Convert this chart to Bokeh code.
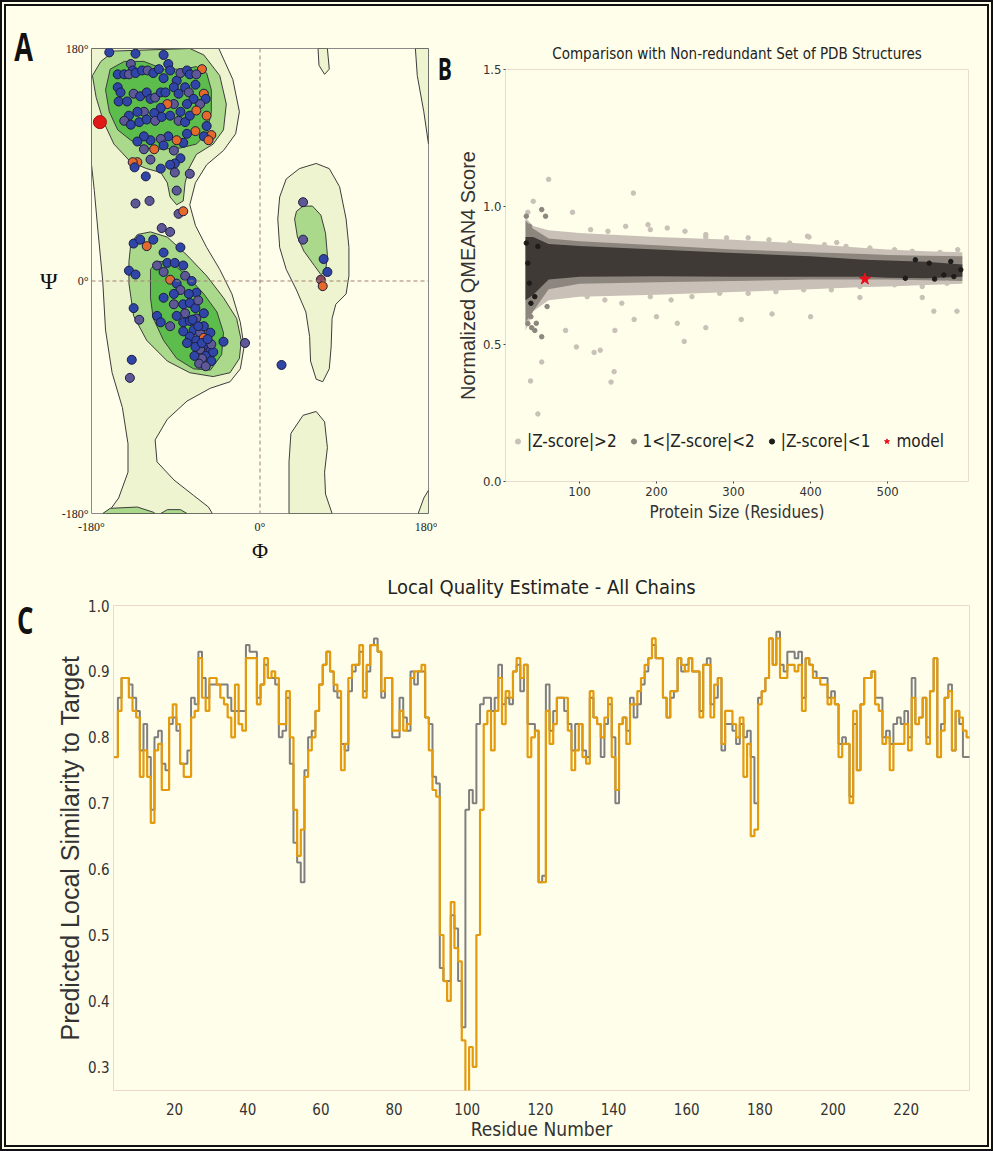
from bokeh.plotting import figure
from bokeh.layouts import column, row
from bokeh.models import (Range1d, FixedTicker, Legend, LegendItem, Span, Div,
                          PrintfTickFormatter)
from bokeh.embed import file_html
from bokeh.resources import INLINE

# ---------------------------------------------------------------- data
# Panel A: Ramachandran contours (phi, psi in degrees)
OUTER_BIG_PHI = [-180, -44, -29, -22, -26, -39, -57, -69, -75, -69, -57, -43, -30, -21, -17, -21, -32, -53, -78, -99, -112, -110, -92, -71, -55, -51, -163, -151, -141, -141, -147, -158, -165, -168, -173, -177, -180]
OUTER_BIG_PSI = [180, 180, 156, 131, 114, 101, 90, 76, 59, 43, 26, 9, -10, -32, -51, -68, -78, -83, -93, -107, -123, -140, -154, -166, -175, -180, -180, -168, -148, -126, -98, -71, -38, 0, 38, 70, 90]
OUTER_RIGHT_PHI = [19, 21, 28, 42, 60, 74, 85, 92, 95, 95, 92, 81, 77, 76, 74, 67, 60, 54, 53, 49, 39, 28, 21]
OUTER_RIGHT_PSI = [48, 65, 79, 87, 91, 87, 73, 48, 26, 4, -10, -18, -29, -51, -68, -78, -76, -62, -43, -24, -7, 9, 26]
OUTER_TOP_PHI = [62, 63, 69, 74, 72]
OUTER_TOP_PSI = [180, 167, 160, 164, 180]
OUTER_BOT_PHI = [31, 31, 33, 46, 60, 69, 72, 69, 70, 77]
OUTER_BOT_PSI = [-180, -140, -118, -104, -101, -109, -129, -148, -165, -180]
OUTER_TR_PHI = [166, 168, 175, 180, 180]
OUTER_TR_PSI = [180, 159, 131, 106, 180]
OUTER_BR_PHI = [169, 175, 180, 180]
OUTER_BR_PSI = [-180, -168, -162, -180]

MID_BETA_PHI = [-179, -175, -167, -156, -138, -121, -106, -99, -96, -89, -82, -80, -76, -68, -50, -39, -36, -43, -60, -75, -156, -170]
MID_BETA_PSI = [159, 142, 123, 106, 92, 87, 84, 76, 65, 59, 62, 76, 87, 98, 106, 117, 137, 159, 175, 180, 178, 170]
MID_ALPHA_PHI = [-140, -140, -135, -121, -99, -75, -50, -32, -22, -20, -25, -39, -57, -78, -99, -117, -131, -138]
MID_ALPHA_PSI = [15, -2, -27, -46, -62, -71, -74, -71, -60, -46, -29, -13, 4, 20, 34, 38, 36, 29]
MID_RIGHT_PHI = [37, 39, 46, 56, 65, 70, 72, 70, 65, 58, 47, 40]
MID_RIGHT_PSI = [48, 54, 58, 58, 51, 37, 20, 7, 5, 12, 23, 34]
MID_BOT1_PHI = [-168, -160, -131, -114, -112]
MID_BOT1_PSI = [-180, -176, -175, -179, -180]
MID_BOT2_PHI = [-106, -99, -85, -78]
MID_BOT2_PSI = [-180, -177, -177, -180]

DARK_BETA_PHI = [-165, -161, -152, -138, -124, -106, -85, -68, -57, -52, -52, -57, -68, -82, -103, -124, -145, -160]
DARK_BETA_PSI = [148, 131, 117, 109, 103, 102, 103, 106, 114, 131, 148, 161, 166, 164, 164, 170, 170, 164]
DARK_ALPHA_PHI = [-117, -114, -103, -89, -71, -53, -41, -39, -46, -60, -78, -96, -110, -117]
DARK_ALPHA_PSI = [-13, -29, -46, -60, -68, -69, -57, -40, -24, -10, 4, 15, 15, 9]

# Panel A: residues (phi, psi, class)
RES_PHI = [-161, -133, -103, -138, -136, -152, -145, -140, -133, -126, -120, -114, -108, -103, -98, -96, -89, -85, -78, -75, -62,
           -152, -149, -151, -142, -135, -128, -121, -117, -112, -106, -101, -92, -87, -80, -76, -69, -68, -60, -58, -64, -71, -78,
           -85, -92, -99, -106, -113, -124, -131, -140, -145, -138, -129, -121, -112, -105, -96, -87, -80, -75, -68, -57, -57, -52,
           -60, -55, -69, -78, -82, -89, -98, -106, -117, -124, -131, -124, -113, -103, -92, -85, -91, -96, -106, -117, -131, -136,
           -134, -122, -91, -75, -89, -133, -118, -87, -82,
           -105, -96, -135, -128, -121, -114, -85, -103, -140, -133, -110, -99, -91, -82, -103, -96, -89, -80, -73, -68, -76, -85,
           -92, -103, -92, -82, -75, -69, -80, -89, -135, -110, -129, -106, -96, -82, -75, -68, -71, -64, -75, -68, -60, -57, -64,
           -53, -58, -52, -82, -60, -53, -50, -52, -69, -62, -39, -16, -137, -139, 23, -66, -62, -56, -70, -65, -58, -72, -78, -60, -66,
           46, 46, 68, 72, 65, 67, 72, 86, 96, 107,
           -177, -178, -84, -91]
RES_PSI = [177, 176, 175, 168, 163, 160, 160, 160, 161, 163, 163, 161, 164, 157, 168, 163, 155, 161, 163, 160, 164,
           150, 146, 139, 139, 145, 143, 146, 141, 142, 146, 146, 150, 145, 150, 146, 152, 160, 145, 141, 137, 141, 137,
           131, 137, 137, 134, 130, 131, 131, 128, 124, 121, 123, 125, 124, 127, 128, 124, 123, 128, 132, 128, 120, 113,
           112, 109, 116, 114, 107, 109, 112, 110, 109, 112, 108, 102, 102, 105, 101, 95, 91, 90, 87, 94, 92, 92,
           88, 81, 84, 83, 70, 60, 62, 52, 54,
           41, 38, 29, 32, 27, 32, 26, 22, 8, 5, 12, 14, 14, 12, 7, 1, -2, 4, 0, -9, -10, -7,
           -10, -13, -18, -18, -17, -21, -25, -27, -21, -27, -30, -32, -35, -32, -31, -29, -38, -40, -43, -46, -44, -50, -53,
           -54, -58, -62, -39, -35, -40, -55, -49, -51, -60, -47, -48, -61, -75, -65, -35, -48, -45, -58, -64, -66, -30, -48, -25, -15,
           61, 32, 17, 7, 1, -4, -8, -3, 0, -26,
           -161, -169, -155, -173]
RES_CLASS = list("bbbpbbbpbbpbbbbbbpbbo"
                 "bbbbpbbbpbbbbbpbpobpbbbpobbpbbpbbbpbbpbbooboboobbobpbbbpobpbbbbpoobbpppp"
                 "ppoppbbobbbbbpbbbpobpbbbpbbpbbbpbbbpbpbbpbpbbobpbbbbbbbpbpbpbpbbb"
                 "bbppbbbppp"
                 "bbmo")
OUTLIER_PHI = [-171]
OUTLIER_PSI = [123]

# Panel B: reference set (protein size vs normalized QMEAN4)
BAND_X = [30, 40, 60, 100, 200, 300, 400, 470, 500, 550, 597]
LIGHT_HI = [0.96, 0.93, 0.915, 0.905, 0.89, 0.88, 0.865, 0.85, 0.845, 0.838, 0.835]
LIGHT_LO = [0.55, 0.62, 0.66, 0.673, 0.68, 0.69, 0.70, 0.708, 0.71, 0.715, 0.72]
MID_HI = [0.95, 0.92, 0.885, 0.875, 0.86, 0.845, 0.835, 0.828, 0.825, 0.822, 0.82]
MID_LO = [0.58, 0.62, 0.70, 0.72, 0.725, 0.73, 0.735, 0.735, 0.735, 0.733, 0.73]
DARK_HI = [0.89, 0.89, 0.865, 0.857, 0.845, 0.832, 0.82, 0.807, 0.805, 0.80, 0.79]
DARK_LO = [0.66, 0.68, 0.735, 0.745, 0.747, 0.745, 0.745, 0.745, 0.742, 0.74, 0.745]

LIGHT_PX = [60, 170, 40, 33, 91, 36.5, 46, 51, 145, 141, 127, 96, 82, 236, 227, 560, 590, 350, 400, 310, 264, 464, 189, 398, 264, 146, 119, 171, 200, 434, 545,
            114.5, 137, 160, 192, 214, 237, 264, 291, 319, 346, 373, 396, 418, 446, 477, 509, 532, 568, 591,
            110, 133, 155, 192, 219, 246, 282, 319, 355, 391, 427, 464, 509, 545, 577]
LIGHT_PY = [1.10, 1.05, 1.02, 0.98, 0.98, 0.366, 0.246, 0.435, 0.40, 0.362, 0.478, 0.49, 0.55, 0.51, 0.576, 0.62, 0.62, 0.61, 0.60, 0.59, 0.56, 0.67, 0.935, 0.89, 0.89, 0.55, 0.47, 0.59, 0.60, 0.87, 0.67,
            0.917, 0.911, 0.929, 0.917, 0.923, 0.911, 0.899, 0.887, 0.887, 0.880, 0.868, 0.893, 0.862, 0.856, 0.850, 0.844, 0.838, 0.834, 0.844,
            0.673, 0.661, 0.649, 0.673, 0.661, 0.673, 0.685, 0.685, 0.691, 0.698, 0.698, 0.710, 0.716, 0.710, 0.722]
MID_PX = [51, 31, 35, 56, 37, 44, 51, 58, 42, 38, 33]
MID_PY = [0.99, 0.966, 0.929, 0.966, 0.60, 0.576, 0.527, 0.637, 0.55, 0.56, 0.575]
DARK_PX = [554, 573, 586, 595, 523, 536, 561, 582, 33, 35, 42, 37, 31, 46]
DARK_PY = [0.795, 0.752, 0.746, 0.771, 0.740, 0.807, 0.737, 0.801, 0.795, 0.722, 0.673, 0.649, 0.868, 0.856]
MODEL_SIZE = [470.5]
MODEL_SCORE = [0.737]
SIZE_TICKS = [100, 200, 300, 400, 500]
SCORE_TICKS = [0.0, 0.5, 1.0, 1.5]

# Panel C: local quality per residue
RESIDUES = list(range(4, 238))
CHAIN_ORANGE = [
    0.77, 0.84, 0.89, 0.89, 0.86, 0.84, 0.83, 0.74, 0.78, 0.74,
    0.67, 0.78, 0.79, 0.72, 0.72, 0.83, 0.85, 0.82, 0.76, 0.74,
    0.74, 0.83, 0.84, 0.92, 0.86, 0.84, 0.89, 0.89, 0.88, 0.86,
    0.85, 0.83, 0.80, 0.88, 0.82, 0.81, 0.92, 0.92, 0.92, 0.85,
    0.88, 0.92, 0.89, 0.90, 0.89, 0.82, 0.82, 0.87, 0.80, 0.69,
    0.62, 0.66, 0.74, 0.78, 0.80, 0.84, 0.88, 0.91, 0.93, 0.90,
    0.88, 0.87, 0.75, 0.79, 0.89, 0.91, 0.91, 0.94, 0.86, 0.91,
    0.94, 0.94, 0.93, 0.87, 0.89, 0.89, 0.81, 0.81, 0.84, 0.81,
    0.82, 0.89, 0.90, 0.90, 0.91, 0.83, 0.78, 0.72, 0.71, 0.50,
    0.43, 0.40, 0.55, 0.48, 0.46, 0.34, 0.26, 0.33, 0.30, 0.50,
    0.69, 0.82, 0.84, 0.78, 0.84, 0.89, 0.82, 0.87, 0.86, 0.90,
    0.92, 0.89, 0.91, 0.77, 0.80, 0.81, 0.58, 0.58, 0.84, 0.79,
    0.82, 0.86, 0.86, 0.86, 0.81, 0.75, 0.78, 0.82, 0.77, 0.76,
    0.87, 0.83, 0.82, 0.80, 0.83, 0.86, 0.77, 0.72, 0.82, 0.83,
    0.79, 0.85, 0.85, 0.87, 0.89, 0.91, 0.92, 0.95, 0.92, 0.92,
    0.86, 0.83, 0.87, 0.87, 0.92, 0.91, 0.90, 0.92, 0.90, 0.90,
    0.83, 0.91, 0.91, 0.83, 0.88, 0.89, 0.79, 0.84, 0.84, 0.82,
    0.80, 0.83, 0.74, 0.79, 0.65, 0.66, 0.85, 0.87, 0.89, 0.95,
    0.91, 0.95, 0.89, 0.89, 0.91, 0.91, 0.90, 0.91, 0.84, 0.92,
    0.91, 0.89, 0.89, 0.88, 0.88, 0.85, 0.86, 0.85, 0.77, 0.79,
    0.79, 0.70, 0.84, 0.75, 0.85, 0.89, 0.89, 0.90, 0.85, 0.84,
    0.79, 0.80, 0.75, 0.79, 0.79, 0.79, 0.82, 0.78, 0.86, 0.82,
    0.83, 0.86, 0.79, 0.87, 0.92, 0.77, 0.81, 0.86, 0.87, 0.78,
    0.84, 0.83, 0.81, 0.80]
CHAIN_GRAY = [
    0.77, 0.86, 0.89, 0.89, 0.88, 0.86, 0.84, 0.78, 0.82, 0.77,
    0.69, 0.80, 0.81, 0.76, 0.75, 0.82, 0.83, 0.81, 0.76, 0.76,
    0.78, 0.86, 0.85, 0.93, 0.89, 0.86, 0.88, 0.88, 0.88, 0.88,
    0.88, 0.86, 0.84, 0.84, 0.84, 0.84, 0.94, 0.93, 0.93, 0.86,
    0.88, 0.91, 0.89, 0.89, 0.88, 0.80, 0.81, 0.86, 0.76, 0.64,
    0.61, 0.58, 0.75, 0.80, 0.81, 0.84, 0.88, 0.91, 0.93, 0.90,
    0.87, 0.86, 0.79, 0.78, 0.87, 0.90, 0.91, 0.93, 0.87, 0.90,
    0.94, 0.95, 0.93, 0.86, 0.89, 0.89, 0.80, 0.80, 0.86, 0.83,
    0.81, 0.90, 0.88, 0.90, 0.90, 0.83, 0.82, 0.74, 0.73, 0.45,
    0.43, 0.43, 0.53, 0.51, 0.43, 0.36, 0.69, 0.72, 0.70, 0.82,
    0.85, 0.86, 0.86, 0.84, 0.86, 0.91, 0.85, 0.86, 0.85, 0.90,
    0.91, 0.87, 0.91, 0.82, 0.82, 0.81, 0.58, 0.59, 0.88, 0.81,
    0.84, 0.86, 0.86, 0.84, 0.82, 0.78, 0.82, 0.82, 0.78, 0.77,
    0.86, 0.83, 0.82, 0.77, 0.82, 0.85, 0.80, 0.70, 0.82, 0.83,
    0.81, 0.86, 0.83, 0.85, 0.88, 0.90, 0.92, 0.94, 0.92, 0.92,
    0.86, 0.83, 0.86, 0.87, 0.92, 0.90, 0.91, 0.92, 0.90, 0.90,
    0.84, 0.91, 0.92, 0.85, 0.86, 0.89, 0.78, 0.82, 0.82, 0.81,
    0.79, 0.82, 0.80, 0.81, 0.77, 0.70, 0.86, 0.87, 0.89, 0.95,
    0.91, 0.96, 0.91, 0.90, 0.93, 0.93, 0.92, 0.93, 0.86, 0.92,
    0.91, 0.90, 0.89, 0.89, 0.89, 0.86, 0.87, 0.85, 0.79, 0.80,
    0.79, 0.71, 0.82, 0.75, 0.85, 0.89, 0.89, 0.90, 0.86, 0.86,
    0.80, 0.81, 0.79, 0.82, 0.83, 0.82, 0.84, 0.80, 0.89, 0.82,
    0.83, 0.86, 0.80, 0.87, 0.92, 0.77, 0.82, 0.86, 0.88, 0.78,
    0.84, 0.82, 0.77, 0.77]
RESIDUE_TICKS = [20, 40, 60, 80, 100, 120, 140, 160, 180, 200, 220]
SIMILARITY_TICKS = [0.3, 0.4, 0.5, 0.6, 0.7, 0.8, 0.9, 1.0]

# ---------------------------------------------------------------- style
BG = "#fffeea"
NARROW = "Liberation Sans Narrow, DejaVu Sans Condensed, Liberation Sans, sans-serif"
SANS = "Liberation Sans"
SERIF = "Liberation Serif"


def style(fig):
    fig.background_fill_color = BG
    fig.border_fill_color = BG
    fig.grid.visible = False
    fig.frame_align = False


def letter_div(letter, width, height, left, top, size):
    html = ('<div style="padding:%dpx 0 0 %dpx; font-family:\'Open Sans\', sans-serif; font-weight:bold; '
            'font-size:%dpx; line-height:1; color:#111; transform:scaleX(0.68); transform-origin:left top;">%s</div>'
            % (top, left, size, letter))
    return Div(text=html, width=width, height=height, margin=(0, 0, 0, 0),
               styles={"background-color": BG, "overflow": "visible"})


# ---------------------------------------------------------------- panel A
pA = figure(width=401, height=559, x_range=Range1d(-180, 180), y_range=Range1d(-180, 180),
            output_backend="svg", toolbar_location=None,
            min_border_left=52, min_border_right=9, min_border_top=42, min_border_bottom=49)
style(pA)
pA.outline_line_color = "#8a8a8a"
pA.outline_line_width = 1

LINE = "#3c3c3c"
pA.patches([OUTER_BIG_PHI, OUTER_RIGHT_PHI, OUTER_TOP_PHI, OUTER_BOT_PHI, OUTER_TR_PHI, OUTER_BR_PHI],
           [OUTER_BIG_PSI, OUTER_RIGHT_PSI, OUTER_TOP_PSI, OUTER_BOT_PSI, OUTER_TR_PSI, OUTER_BR_PSI],
           fill_color="#eef4cf", line_color=LINE, line_width=1)
pA.patches([MID_BETA_PHI, MID_ALPHA_PHI, MID_RIGHT_PHI, MID_BOT1_PHI, MID_BOT2_PHI],
           [MID_BETA_PSI, MID_ALPHA_PSI, MID_RIGHT_PSI, MID_BOT1_PSI, MID_BOT2_PSI],
           fill_color="#aad98b", line_color=LINE, line_width=1)
pA.patches([DARK_BETA_PHI, DARK_ALPHA_PHI], [DARK_BETA_PSI, DARK_ALPHA_PSI],
           fill_color="#5cbd4c", line_color=LINE, line_width=1)

pA.add_layout(Span(location=0, dimension="width", line_color="#a08070", line_dash="4 3", line_width=1))
pA.add_layout(Span(location=0, dimension="height", line_color="#a08070", line_dash="4 3", line_width=1))

CLASS_COLOR = {"b": "#2f46a8", "p": "#5e5896", "o": "#e4692a", "m": "#8e4a56"}
pA.scatter(RES_PHI, RES_PSI, size=9, fill_color=[CLASS_COLOR[c] for c in RES_CLASS],
           line_color="#1c1c40", line_width=1)
pA.scatter(OUTLIER_PHI, OUTLIER_PSI, size=13, fill_color="#e01818", line_color="#a01010", line_width=1)

for ax in (pA.xaxis[0], pA.yaxis[0]):
    ax.ticker = FixedTicker(ticks=[-180, 0, 180])
    ax.major_label_overrides = {-180: "-180°", 0: "0°", 180: "180°"}
    ax.major_tick_line_color = None
    ax.major_tick_in = 0
    ax.major_tick_out = 0
    ax.minor_tick_line_color = None
    ax.minor_tick_in = 0
    ax.minor_tick_out = 0
    ax.axis_line_color = None
    ax.major_label_text_font = SERIF
    ax.major_label_text_font_size = "12px"
    ax.major_label_text_color = "#222222"
    ax.axis_label_text_font = SERIF
    ax.axis_label_text_font_style = "normal"
    ax.axis_label_text_color = "#111111"
pA.xaxis.axis_label = "Φ"
pA.xaxis.axis_label_text_font_size = "22px"
pA.xaxis.major_label_standoff = 6
pA.xaxis.axis_label_standoff = 1
pA.yaxis.axis_label = "Ψ"
pA.yaxis.axis_label_text_font_size = "24px"
pA.yaxis.axis_label_orientation = "horizontal"
pA.yaxis.major_label_standoff = 3
pA.yaxis.axis_label_standoff = 1

# ---------------------------------------------------------------- panel B
pB = figure(width=535, height=559, x_range=Range1d(4, 605), y_range=Range1d(0, 1.5),
            output_backend="svg", toolbar_location=None,
            title="Comparison with Non-redundant Set of PDB Structures",
            min_border_left=53, min_border_right=19, min_border_top=63, min_border_bottom=84)
style(pB)
pB.outline_line_color = "#eadbd0"
pB.title.align = "center"
pB.title.text_font = NARROW
pB.title.text_font_size = "15px"
pB.title.text_font_style = "normal"
pB.title.text_color = "#222222"
pB.title.standoff = 13

LIGHT, MID, DARK = "#c9c1b7", "#8d867e", "#3f3a35"
pB.varea(x=BAND_X, y1=LIGHT_LO, y2=LIGHT_HI, fill_color=LIGHT)
pB.varea(x=BAND_X, y1=MID_LO, y2=MID_HI, fill_color=MID)
pB.varea(x=BAND_X, y1=DARK_LO, y2=DARK_HI, fill_color=DARK)
r_light = pB.scatter(LIGHT_PX, LIGHT_PY, size=4.5, color=LIGHT)
r_mid = pB.scatter(MID_PX, MID_PY, size=4.5, color=MID)
r_dark = pB.scatter(DARK_PX, DARK_PY, size=4.5, color="#1e1c1a")
r_model = pB.scatter(MODEL_SIZE, MODEL_SCORE, marker="star", size=12, color="#e8101a")

pB.xaxis.ticker = FixedTicker(ticks=SIZE_TICKS)
pB.yaxis.ticker = FixedTicker(ticks=SCORE_TICKS)
pB.yaxis.formatter = PrintfTickFormatter(format="%.1f")
for ax in (pB.xaxis[0], pB.yaxis[0]):
    ax.axis_line_color = None
    ax.major_tick_line_color = "#444444"
    ax.major_tick_in = 0
    ax.major_tick_out = 2
    ax.minor_tick_line_color = None
    ax.minor_tick_in = 0
    ax.minor_tick_out = 0
    ax.major_label_text_font = NARROW
    ax.major_label_text_font_size = "13px"
    ax.major_label_text_color = "#333333"
    ax.axis_label_text_font_style = "normal"
    ax.axis_label_text_color = "#333333"
pB.xaxis.axis_label = "Protein Size (Residues)"
pB.xaxis.axis_label_text_font = NARROW
pB.xaxis.axis_label_text_font_size = "17px"
pB.xaxis.axis_label_standoff = 3
pB.xaxis.major_label_standoff = 3
pB.yaxis.axis_label = "Normalized QMEAN4 Score"
pB.yaxis.axis_label_text_font = SANS
pB.yaxis.axis_label_text_font_size = "20px"
pB.yaxis.axis_label_standoff = 1
pB.yaxis.major_label_standoff = 2

legend = Legend(items=[LegendItem(label="|Z-score|>2", renderers=[r_light]),
                       LegendItem(label="1<|Z-score|<2", renderers=[r_mid]),
                       LegendItem(label="|Z-score|<1", renderers=[r_dark]),
                       LegendItem(label="model", renderers=[r_model])],
                orientation="horizontal", location=(6, 29), margin=0, padding=0,
                spacing=10, label_standoff=3, glyph_width=13, glyph_height=22,
                background_fill_alpha=0, border_line_alpha=0,
                label_text_font=NARROW, label_text_font_size="17px", label_text_color="#222222")
pB.add_layout(legend)

# ---------------------------------------------------------------- panel C
pC = figure(width=941, height=580, x_range=Range1d(3.3, 237.3), y_range=Range1d(0.264, 1.0),
            output_backend="svg", toolbar_location=None,
            title="Local Quality Estimate - All Chains",
            min_border_left=67, min_border_right=18, min_border_top=39, min_border_bottom=55)
style(pC)
pC.outline_line_color = "#ead8cc"
pC.title.align = "center"
pC.title.text_font = NARROW
pC.title.text_font_size = "20px"
pC.title.text_font_style = "normal"
pC.title.text_color = "#222222"
pC.title.standoff = 14

edges = [r - 0.5 for r in RESIDUES] + [RESIDUES[-1] + 0.5]
pC.step(edges, CHAIN_GRAY + [CHAIN_GRAY[-1]], mode="after", line_color="#7f7f7f", line_width=2)
pC.step(edges, CHAIN_ORANGE + [CHAIN_ORANGE[-1]], mode="after", line_color="#e39a0c", line_width=2.2)

pC.xaxis.ticker = FixedTicker(ticks=RESIDUE_TICKS)
pC.yaxis.ticker = FixedTicker(ticks=SIMILARITY_TICKS)
pC.yaxis.formatter = PrintfTickFormatter(format="%.1f")
for ax in (pC.xaxis[0], pC.yaxis[0]):
    ax.axis_line_color = None
    ax.major_tick_line_color = None
    ax.major_tick_in = 0
    ax.major_tick_out = 0
    ax.minor_tick_line_color = None
    ax.minor_tick_in = 0
    ax.minor_tick_out = 0
    ax.major_label_text_font = NARROW
    ax.major_label_text_font_size = "15px"
    ax.major_label_text_color = "#333333"
    ax.axis_label_text_font_style = "normal"
    ax.axis_label_text_color = "#333333"
pC.xaxis.axis_label = "Residue Number"
pC.xaxis.axis_label_text_font = NARROW
pC.xaxis.axis_label_text_font_size = "19px"
pC.xaxis.major_label_standoff = 12
pC.xaxis.axis_label_standoff = 0
pC.yaxis.axis_label = "Predicted Local Similarity to Target"
pC.yaxis.axis_label_text_font = SANS
pC.yaxis.axis_label_text_font_size = "25px"
pC.yaxis.major_label_standoff = 4
pC.yaxis.axis_label_standoff = 1

# ---------------------------------------------------------------- layout
divA = letter_div("A", 30, 559, 12, 20, 40)
divB = letter_div("B", 15, 559, 1, 47, 31)
divC = letter_div("C", 40, 580, 16, 35, 38)

layout = column(row(divA, pA, divB, pB), row(divC, pC),
                styles={"border": "6px double #111111", "background-color": BG})

open("out.html", "w").write(file_html(layout, INLINE, title="Model quality"))
